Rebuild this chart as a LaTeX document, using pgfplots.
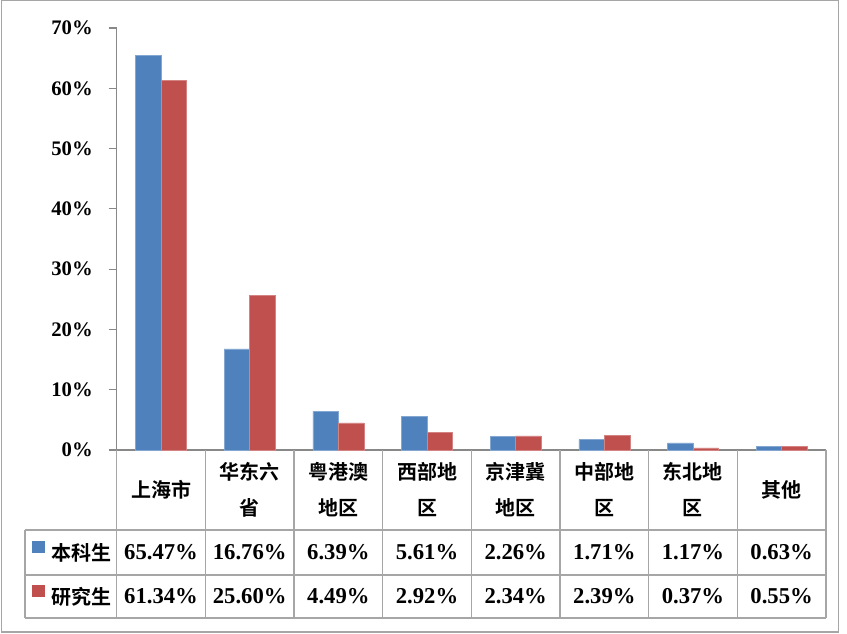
\documentclass[border=0pt]{standalone}
\usepackage{fontspec}
\setmainfont{Liberation Serif}
\newfontfamily\cjk{Noto Sans CJK SC}[BoldFont={Noto Sans CJK SC Bold}]
\usepackage{pgfplots}
\pgfplotsset{compat=1.18}
\definecolor{bblue}{HTML}{4F81BD}
\definecolor{bred}{HTML}{C0504D}
\definecolor{gridgray}{HTML}{A6A6A6}
\definecolor{axisgray}{HTML}{888888}
\newcommand\tf{\fontsize{15}{27}\selectfont\bfseries}
\newcommand\nf{\fontsize{17}{20}\selectfont\bfseries}

\begin{document}
\begin{tikzpicture}
% frame, in pixel units of the reference (y downwards)
\begin{scope}[x=0.75pt,y=-0.75pt]
  \path (0,0) rectangle (847,634);
  \draw[gridgray, line width=1pt] (1.5,0.8) rectangle (838.5,632);
\end{scope}

\begin{axis}[
  at={(87.525pt,-337.5pt)}, anchor=south west,
  scale only axis, width=531.975pt, height=316.5pt,
  xmin=-0.5, xmax=7.5, ymin=0, ymax=70,
  ybar=0pt, bar width=0.288,
  axis x line=bottom, axis y line=left,
  axis line style={axisgray, line width=0.8pt, -},
  xtick=\empty,
  ytick={0,10,...,70},
  yticklabels={0\%,10\%,20\%,30\%,40\%,50\%,60\%,70\%},
  tick align=outside, major tick length=6pt,
  tick style={axisgray, line width=0.8pt},
  yticklabel style={font=\fontsize{15.5}{18}\selectfont\bfseries, inner sep=0pt, xshift=-11.8pt},
  clip=false,
]
\addplot[fill=bblue, draw=bblue!70!white, line width=0.4pt]
  coordinates {(0,65.47) (1,16.76) (2,6.39) (3,5.61) (4,2.26) (5,1.71) (6,1.17) (7,0.63)};
\addplot[fill=bred, draw=bred!70!white, line width=0.4pt]
  coordinates {(0,61.34) (1,25.60) (2,4.49) (3,2.92) (4,2.34) (5,2.39) (6,0.37) (7,0.55)};
\end{axis}

% data table below the axis
\begin{scope}[x=0.75pt,y=-0.75pt]
  \draw[gridgray, line width=0.9pt]
    (25,530) -- (826,530) (25,575) -- (826,575) (25,618) -- (826,618)
    (25,530) -- (25,618);
  \foreach \i in {0,...,8}
    \draw[gridgray, line width=0.9pt] ({116.7+88.66*\i},450) -- ({116.7+88.66*\i},618);
  \foreach \n [count=\i from 0] in {上海市,{华东六\\省},{粤港澳\\地区},{西部地\\区},{京津冀\\地区},{中部地\\区},{东北地\\区},其他}
    \node[font=\cjk\tf, align=center, inner sep=0pt] at ({116.7+88.66*(\i+0.5)},490) {\n};
  \foreach \v [count=\i from 0] in {65.47,16.76,6.39,5.61,2.26,1.71,1.17,0.63}
    \node[font=\nf, inner sep=0pt] at ({116.7+88.66*(\i+0.5)},552.5) {\v\%};
  \foreach \v [count=\i from 0] in {61.34,25.60,4.49,2.92,2.34,2.39,0.37,0.55}
    \node[font=\nf, inner sep=0pt] at ({116.7+88.66*(\i+0.5)},596.5) {\v\%};
  \fill[bblue] (32,541.5) rectangle (45,553);
  \fill[bred] (32,585) rectangle (45,597);
  \node[font=\cjk\tf, inner sep=0pt] at (81,552.5) {本科生};
  \node[font=\cjk\tf, inner sep=0pt] at (81,596.5) {研究生};
\end{scope}
\end{tikzpicture}
\end{document}
